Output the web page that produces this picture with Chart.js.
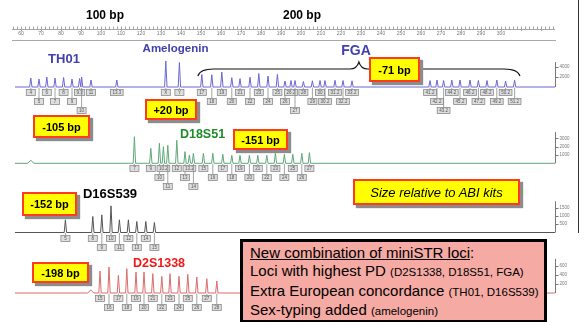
<!DOCTYPE html>
<html><head><meta charset="utf-8">
<script src="https://cdn.jsdelivr.net/npm/chart.js@4.4.1/dist/chart.umd.min.js"></script>
<style>
html,body{margin:0;padding:0;background:#fff;}
#wrap{position:relative;width:584px;height:322px;overflow:hidden;font-family:"Liberation Sans",Arial,sans-serif;}
#c{position:absolute;left:0;top:0;}
.t{position:absolute;font-weight:bold;white-space:nowrap;line-height:1;transform:translate(-50%,-50%);}
.call{position:absolute;box-sizing:border-box;background:#ffff00;border:2px solid #ff3b1f;box-shadow:3px 3px 1px #8c8c8c;font-weight:bold;font-size:11px;display:flex;align-items:center;justify-content:center;color:#000;white-space:nowrap;}
#note{position:absolute;left:240px;top:239px;width:307px;height:84px;box-sizing:border-box;border:3px solid #000;background:#f5aaa3;padding:2px 0 0 7px;font-size:15px;line-height:18.3px;color:#000;white-space:nowrap;}
#note small{font-size:11.5px;}
#frame{position:absolute;left:578px;top:0;width:1px;height:233px;background:#333;}
</style></head>
<body><div id="wrap">
<canvas id="c" width="584" height="322"></canvas>
<div id="frame"></div>
<div class="t" style="left:105px;top:15px;font-size:12px;">100 bp</div>
<div class="t" style="left:302px;top:15px;font-size:12px;">200 bp</div>
<div class="t" style="left:64px;top:58px;font-size:13px;color:#4040b0;">TH01</div>
<div class="t" style="left:175.5px;top:49px;font-size:11.5px;color:#4040b0;">Amelogenin</div>
<div class="t" style="left:356px;top:50px;font-size:14px;color:#4040b0;">FGA</div>
<div class="t" style="left:202.5px;top:134px;font-size:12.5px;color:#1e8c2a;">D18S51</div>
<div class="t" style="left:110px;top:193px;font-size:13px;color:#000;">D16S539</div>
<div class="t" style="left:159px;top:262.5px;font-size:12.5px;color:#f01818;">D2S1338</div>
<div class="call" style="left:145px;top:99px;width:52px;height:21px;">+20 bp</div>
<div class="call" style="left:33px;top:115px;width:57px;height:23px;">-105 bp</div>
<div class="call" style="left:233px;top:129px;width:55px;height:21px;">-151 bp</div>
<div class="call" style="left:369px;top:57px;width:51px;height:25px;">-71 bp</div>
<div class="call" style="left:22px;top:192px;width:55px;height:24px;">-152 bp</div>
<div class="call" style="left:32px;top:262px;width:57px;height:21px;">-198 bp</div>
<div class="call" style="left:353px;top:179px;width:167px;height:26px;font-weight:normal;font-style:italic;font-size:13px;">Size relative to ABI kits</div>
<div id="note"><span style="text-decoration:underline;">New combination of miniSTR loci</span>:<br>Loci with highest PD <small>(D2S1338, D18S51, FGA)</small><br>Extra European concordance <small>(TH01, D16S539)</small><br>Sex-typing added <small>(amelogenin)</small></div>
</div>
<script>
// ---- data (sizes in bp, heights in RFU) ----
const rulerTicks = [60,70,80,90,100,110,120,130,140,150,160,170,180,190,200,210,220,230,240,250,260,270,280,290,300];

const th01Alleles = ['4','5','6','7','8','9','9.3','10','11','13.3'];
const th01Size = [64.9,69.0,72.9,77.0,81.3,85.5,89.3,90.3,95.0,107.9];
const th01Rfu  = [1800,1600,2000,1800,1900,1600,1700,2000,1400,1400];

const amelAlleles = ['X','Y'];
const amelSize = [132.4,139.2];
const amelRfu  = [5200,4900];

const fgaAlleles = ['17','18','19','20','21','22','23','24','25','26','26.2','27','28','29','30','30.2','31.2','32.2','33.2',
                    '41.2','42.2','43.2','44.2','45.2','46.2','47.2','48.2','49.2','50.2','51.2'];
const fgaSize = [150.4,155.4,160.4,165.4,169.5,174.5,178.9,183.5,188.2,192.0,195.0,197.0,201.2,205.7,209.5,212.0,217.0,221.0,225.5,
                 264.5,268.0,271.3,275.4,279.5,284.5,288.7,293.0,297.9,302.3,306.8];
const fgaRfu  = [2500,2450,3000,1870,1670,1960,2700,2200,2530,1200,1300,1300,1100,1250,1300,1300,1350,1300,1250,
                 1300,1400,1300,1400,1400,1400,1300,1300,1400,1200,1400];

const d18Alleles = ['7','9','10','10.2','11','12','13','13.2','14','15','16','17','18','19','20','21','22','23','24','25','26','27'];
const d18Size = [116.7,124.9,129.2,131.2,133.4,137.9,142.0,144.2,146.2,151.2,155.9,160.9,165.4,169.5,174.2,178.4,182.9,187.2,191.7,195.9,200.4,204.2];
const d18Rfu  = [3200,1800,2400,2000,2160,2760,1400,1000,1200,1200,1200,1080,960,960,960,960,960,1200,1080,1080,1200,1280];
const d18ArtifactSize = [64.9];
const d18ArtifactRfu  = [360];

const d16Alleles = ['5','8','9','10','11','12','13','14','15'];
const d16Size = [82.2,95.9,100.4,105.0,109.2,113.7,117.9,122.4,126.7];
const d16Rfu  = [760,960,1060,1600,760,760,660,660,600];

const d2Alleles = ['15','16','17','18','19','20','21','22','23','24','25','26','27','28'];
const d2Size = [99.5,104.0,108.7,112.9,117.5,121.5,125.9,130.4,134.5,139.0,143.4,147.9,152.9,157.9];
const d2Rfu  = [484,572,389,535,462,462,425,367,425,367,411,352,315,264];
const d2ArtifactSize = [94.9];
const d2ArtifactRfu  = [66];

const blueAxisTicks  = [2000,4000];
const greenAxisTicks = [1000,2000,3000];
const blackAxisTicks = [500,1000,1500];
const redAxisTicks   = [200,400,600];

// ---- building ----
const X_MIN = 55.5, X_MAX = 327, TRACE_START = 57;
const AREA_TOP = 40, AREA_BOTTOM = 322;
function band(basePx, perPx){ return {min: -(AREA_BOTTOM-basePx)*perPx, max: (basePx-AREA_TOP)*perPx}; }

const panels = [
  {id:'yB', color:'#6868d6', base:87,    per:200, ticks:blueAxisTicks,
   loci:[[th01Size,th01Rfu,th01Alleles],[amelSize,amelRfu,amelAlleles],[fgaSize,fgaRfu,fgaAlleles]], extra:[[],[]]},
  {id:'yG', color:'#5ea878', base:163.3, per:120, ticks:greenAxisTicks,
   loci:[[d18Size,d18Rfu,d18Alleles]], extra:[d18ArtifactSize,d18ArtifactRfu]},
  {id:'yK', color:'#555555', base:232.5, per:60,  ticks:blackAxisTicks,
   loci:[[d16Size,d16Rfu,d16Alleles]], extra:[[],[]]},
  {id:'yR', color:'#d96c6c', base:293,   per:22,  ticks:redAxisTicks,
   loci:[[d2Size,d2Rfu,d2Alleles]], extra:[d2ArtifactSize,d2ArtifactRfu]}
];

function tracePoints(p){
  const peaks = [];
  p.loci.forEach(([s,h]) => s.forEach((v,i) => peaks.push([v,h[i],0.6])));
  p.extra[0].forEach((v,i) => peaks.push([v,p.extra[1][i],1.6]));
  peaks.sort((a,b)=>a[0]-b[0]);
  const pts = [{x:TRACE_START,y:0}];
  peaks.forEach(([s,h,w]) => { pts.push({x:s-w,y:0},{x:s,y:h},{x:s+w,y:0}); });
  pts.push({x:X_MAX,y:0});
  return pts;
}

const datasets = panels.map(p => ({
  data: tracePoints(p), yAxisID: p.id, borderColor: p.color, borderWidth: 1,
  pointRadius: 0, tension: 0, fill: false
}));

const scales = {
  x: {type:'linear', position:'top', min:X_MIN, max:X_MAX,
      afterFit(s){ s.height = 14; },
      afterBuildTicks(s){ s.ticks = rulerTicks.map(v => ({value:v})); },
      grid:{display:false, drawTicks:false},
      border:{display:true, color:'#a8a8a8', width:1},
      ticks:{autoSkip:false, maxRotation:0, font:{size:5, family:'Liberation Sans'}, color:'#777', padding:3}
  }
};
panels.forEach(p => { scales[p.id] = Object.assign({type:'linear', display:false}, band(p.base, p.per)); });

const decor = {
  id:'decor',
  beforeDatasetsDraw(chart){
    const ctx = chart.ctx, x = chart.scales.x;
    ctx.save();
    ctx.strokeStyle = '#a5a5a5'; ctx.lineWidth = 1;
    ctx.beginPath();
    for (let v = 56; v <= 326; v += 2){
      const px = Math.round(x.getPixelForValue(v)) + 0.5;
      ctx.moveTo(px, 26.5); ctx.lineTo(px, v % 10 === 0 ? 31 : 29.5);
    }
    ctx.moveTo(x.getPixelForValue(X_MIN), 29.5); ctx.lineTo(x.getPixelForValue(X_MAX), 29.5);
    ctx.stroke();
    ctx.restore();
  },
  afterDatasetsDraw(chart){
    const ctx = chart.ctx, x = chart.scales.x;
    ctx.save();
    // FGA brace
    const yB = chart.scales.yB;
    const xl = x.getPixelForValue(fgaSize[0]-2), xr = x.getPixelForValue(fgaSize[fgaSize.length-1]+2.7);
    const xm = (xl+xr)/2;
    const yLine = yB.getPixelForValue(3600), yEnd = yB.getPixelForValue(2200), yTip = yB.getPixelForValue(5000);
    ctx.strokeStyle = '#111'; ctx.lineWidth = 1.1;
    ctx.beginPath();
    ctx.moveTo(xl, yEnd);
    ctx.quadraticCurveTo(xl+2, yLine, xl+16, yLine);
    ctx.lineTo(xm-9, yLine);
    ctx.quadraticCurveTo(xm-2, yLine, xm, yTip);
    ctx.quadraticCurveTo(xm+2, yLine, xm+9, yLine);
    ctx.lineTo(xr-16, yLine);
    ctx.quadraticCurveTo(xr-2, yLine, xr, yEnd);
    ctx.stroke();

    panels.forEach(p => {
      const ys = chart.scales[p.id];
      const base = ys.getPixelForValue(0);
      const ax = chart.chartArea.right + 0.5;
      ctx.strokeStyle = '#777'; ctx.lineWidth = 1;
      ctx.beginPath();
      ctx.moveTo(ax, base); ctx.lineTo(ax, ys.getPixelForValue(p.ticks[p.ticks.length-1]*1.25));
      p.ticks.forEach(t => { const ty = Math.round(ys.getPixelForValue(t))+0.5; ctx.moveTo(ax, ty); ctx.lineTo(ax+3, ty); });
      ctx.stroke();
      ctx.fillStyle = '#777'; ctx.font = '4.5px "Liberation Sans"'; ctx.textBaseline = 'middle'; ctx.textAlign = 'left';
      p.ticks.forEach(t => ctx.fillText(String(t), ax+4, ys.getPixelForValue(t)));

      ctx.font = '4.5px "Liberation Sans"';
      const items = [];
      p.loci.forEach(([s,h,a]) => s.forEach((v,i) => {
        const px = x.getPixelForValue(v);
        const w = Math.max(9, ctx.measureText(a[i]).width + 4);
        items.push({px, w, left: px - w/2, txt: a[i]});
      }));
      items.sort((a,b)=>a.px-b.px);
      const ends = [];
      items.forEach(it => {
        let lv = 0;
        while (ends[lv] !== undefined && ends[lv] + 1.5 > it.left) lv++;
        it.level = lv; ends[lv] = it.left + it.w;
      });
      items.forEach(it => {
        const top = Math.round(base + 2 + it.level*9) + 0.5;
        ctx.strokeStyle = '#8a8a8a'; ctx.lineWidth = 0.8;
        ctx.beginPath(); ctx.moveTo(it.px, base+0.5); ctx.lineTo(it.px, top); ctx.stroke();
        ctx.fillStyle = '#dedede';
        ctx.fillRect(it.left, top, it.w, 6);
        ctx.strokeRect(it.left, top, it.w, 6);
        ctx.fillStyle = '#555'; ctx.textAlign = 'center'; ctx.textBaseline = 'middle';
        ctx.fillText(it.txt, it.px, top + 3.2);
      });
    });
    ctx.restore();
  }
};

new Chart(document.getElementById('c'), {
  type: 'line',
  data: { datasets },
  options: {
    responsive: false, animation: false, events: [],
    layout: { padding: {left: 12, right: 29, top: 26, bottom: 0} },
    plugins: { legend: {display:false}, tooltip: {enabled:false} },
    scales
  },
  plugins: [decor]
});
</script>
</body></html>
